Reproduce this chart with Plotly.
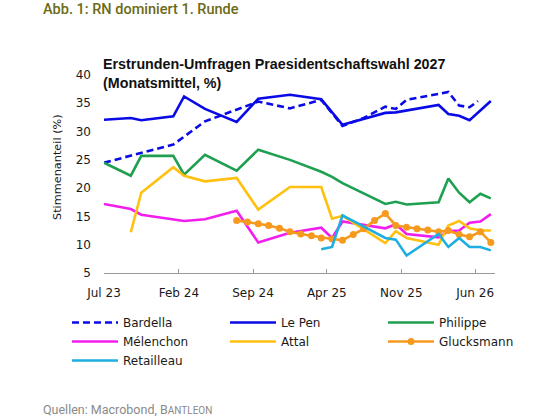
import pandas as pd
import plotly.graph_objects as go

# -------- DATEN (Monatsmittel, %) --------
bardella_dates = ["2023-07-01", "2024-01-16", "2024-04-16", "2024-09-16", "2024-12-16",
                  "2025-03-16", "2025-05-16", "2025-07-16", "2025-09-16", "2025-10-16",
                  "2025-11-16", "2026-02-16", "2026-03-16", "2026-04-16", "2026-05-16",
                  "2026-06-09"]
bardella = [24.5, 27.7, 31.8, 35.3, 34.1, 35.6, 31.0, 32.4, 34.4, 34.0,
            35.6, 36.7, 37.0, 34.6, 34.3, 35.4]

lepen_dates = ["2023-07-01", "2023-09-16", "2023-10-16", "2024-01-16", "2024-02-16",
               "2024-04-16", "2024-07-16", "2024-09-16", "2024-12-16", "2025-03-16",
               "2025-05-16", "2025-07-16", "2025-09-16", "2025-10-16", "2026-02-16",
               "2026-03-16", "2026-04-16", "2026-05-16", "2026-07-16"]
lepen = [32.1, 32.4, 32.0, 32.7, 36.2, 34.0, 31.7, 35.8, 36.5, 35.7,
         31.2, 32.2, 33.3, 33.4, 34.7, 33.1, 32.8, 32.0, 35.4]

philippe_dates = ["2023-07-01", "2023-09-16", "2023-10-16", "2024-01-16", "2024-02-16",
                  "2024-04-16", "2024-07-16", "2024-09-16", "2024-12-16", "2025-03-16",
                  "2025-04-16", "2025-05-16", "2025-09-16", "2025-10-16", "2025-11-16",
                  "2026-02-16", "2026-03-16", "2026-04-16", "2026-05-16", "2026-06-16",
                  "2026-07-16"]
philippe = [24.5, 22.2, 25.7, 25.7, 22.4, 25.9, 23.1, 26.8, 25.0, 22.9,
            22.0, 20.9, 17.2, 17.6, 17.1, 17.5, 21.7, 19.2, 17.5, 19.0, 18.2]

melenchon_dates = ["2023-07-01", "2023-09-16", "2023-10-16", "2024-02-16", "2024-04-16",
                   "2024-07-16", "2024-09-16", "2024-12-16", "2025-03-16", "2025-04-16",
                   "2025-05-16", "2025-07-16", "2025-09-16", "2025-10-16", "2025-11-16",
                   "2026-02-16", "2026-03-16", "2026-04-16", "2026-05-16", "2026-06-16",
                   "2026-07-16"]
melenchon = [17.2, 16.3, 15.3, 14.2, 14.5, 16.0, 10.4, 12.1, 13.0, 11.2,
             14.1, 13.5, 12.9, 13.6, 11.9, 11.3, 12.4, 12.5, 13.9, 14.1, 15.4]

attal_dates = ["2023-09-16", "2023-10-16", "2024-01-16", "2024-02-16", "2024-04-16",
               "2024-07-16", "2024-09-16", "2024-12-16", "2025-03-16", "2025-04-16",
               "2025-05-16", "2025-09-16", "2025-10-16", "2025-11-16", "2026-02-16",
               "2026-03-16", "2026-04-16", "2026-05-16", "2026-06-16", "2026-07-16"]
attal = [12.2, 19.2, 23.7, 22.2, 21.2, 21.8, 16.2, 20.2, 20.2, 14.6,
         15.1, 10.3, 12.4, 11.2, 10.0, 13.4, 14.2, 12.9, 12.5, 12.5]

glucksmann_dates = pd.date_range("2024-07-01", "2026-07-01", freq="MS") + pd.Timedelta(days=15)
glucksmann = [14.3, 14.0, 13.7, 13.4, 12.9, 12.3, 11.9, 11.6, 11.2, 11.0,
              10.8, 11.8, 12.8, 14.3, 15.5, 13.4, 13.1, 12.8, 12.6, 12.3,
              12.5, 11.8, 11.4, 12.3, 10.4]

retailleau_dates = ["2025-03-16", "2025-04-16", "2025-05-16", "2025-09-16", "2025-10-16",
                    "2025-11-16", "2026-02-16", "2026-03-16", "2026-04-16", "2026-05-16",
                    "2026-06-16", "2026-07-16"]
retailleau = [9.2, 9.6, 15.2, 11.2, 10.9, 8.1, 11.9, 9.6, 11.2, 9.6, 9.6, 9.0]

# -------- LAYOUT-HILFEN (Pixel -> Papier) --------
W, H = 542, 419
ML, MR, MT, MB = 104, 47, 75, 146
PW, PH = W - ML - MR, H - MT - MB


def px_x(px):
    return (px - ML) / PW


def px_y(py):
    return (H - MB - py) / PH


BLUE = "#0a0ae6"
fig = go.Figure()

serien = [
    ("Bardella", bardella_dates, bardella, BLUE, "7px,4px"),
    ("Le Pen", lepen_dates, lepen, BLUE, "solid"),
    ("Philippe", philippe_dates, philippe, "#1ea050", "solid"),
    ("Mélenchon", melenchon_dates, melenchon, "#f21ef0", "solid"),
    ("Attal", attal_dates, attal, "#ffc010", "solid"),
]
for name, x, y, col, dash in serien:
    fig.add_trace(go.Scatter(x=x, y=y, name=name, mode="lines",
                             line=dict(color=col, width=2.6, dash=dash)))

fig.add_trace(go.Scatter(x=glucksmann_dates, y=glucksmann, name="Glucksmann",
                         mode="lines+markers",
                         line=dict(color="#f59a1e", width=2.6),
                         marker=dict(color="#f59a1e", size=7)))
fig.add_trace(go.Scatter(x=retailleau_dates, y=retailleau, name="Retailleau",
                         mode="lines", line=dict(color="#1eaee0", width=2.6)))

fig.update_layout(
    width=W, height=H,
    margin=dict(l=ML, r=MR, t=MT, b=MB, autoexpand=False),
    paper_bgcolor="white", plot_bgcolor="white",
    font=dict(family="DejaVu Sans", size=12, color="#1a1a1a"),
    showlegend=True,
    legend=dict(orientation="h", x=px_x(67), y=px_y(308), xanchor="left", yanchor="top",
                itemwidth=46, entrywidth=97, font=dict(size=12),
                bgcolor="rgba(0,0,0,0)", tracegroupgap=0),
)

fig.update_xaxes(
    type="date", range=["2023-07-01", "2026-07-28"],
    tick0="2023-07-01", dtick="M7", tickformat="%b %y",
    ticks="inside", ticklen=4, tickcolor="#9a9a9a",
    showline=True, linecolor="#9a9a9a", linewidth=1,
    showgrid=False, zeroline=False, ticklabelstandoff=9,
)
fig.update_yaxes(
    range=[5, 40], dtick=5, showgrid=False, zeroline=False,
    showline=False, ticks="", ticklabelstandoff=12,
)

fig.add_annotation(text="Abb. 1: RN dominiert 1. Runde", xref="paper", yref="paper",
                   x=px_x(41), y=px_y(9), xanchor="left", yanchor="middle",
                   showarrow=False,
                   font=dict(family="Roboto", size=14.5, weight=500, color="#6b6b16"))
fig.add_annotation(text="<b>Erstrunden-Umfragen Praesidentschaftswahl 2027<br>(Monatsmittel, %)</b>",
                   xref="paper", yref="paper", x=px_x(101), y=px_y(54),
                   xanchor="left", yanchor="top", align="left", showarrow=False,
                   font=dict(family="Liberation Sans", size=14.3, color="#111111"))
fig.add_annotation(text="Stimmenanteil (%)", xref="paper", yref="paper",
                   x=px_x(57), y=px_y(167), xanchor="center", yanchor="middle",
                   textangle=-90, showarrow=False,
                   font=dict(family="DejaVu Sans", size=11.3, color="#1a1a1a"))
fig.add_annotation(text="Quellen: Macrobond, B<span style='font-size:10px'>ANTLEON</span>",
                   xref="paper", yref="paper", x=px_x(41), y=px_y(409),
                   xanchor="left", yanchor="middle", showarrow=False,
                   font=dict(family="Roboto", size=12.5, color="#8a8a8a"))

# Browser-Standardrand (8px) entfernen, damit die Grafik bündig sitzt
fig.write_html("out.html", config={"displayModeBar": False},
               post_script="document.body.style.margin='0';")
